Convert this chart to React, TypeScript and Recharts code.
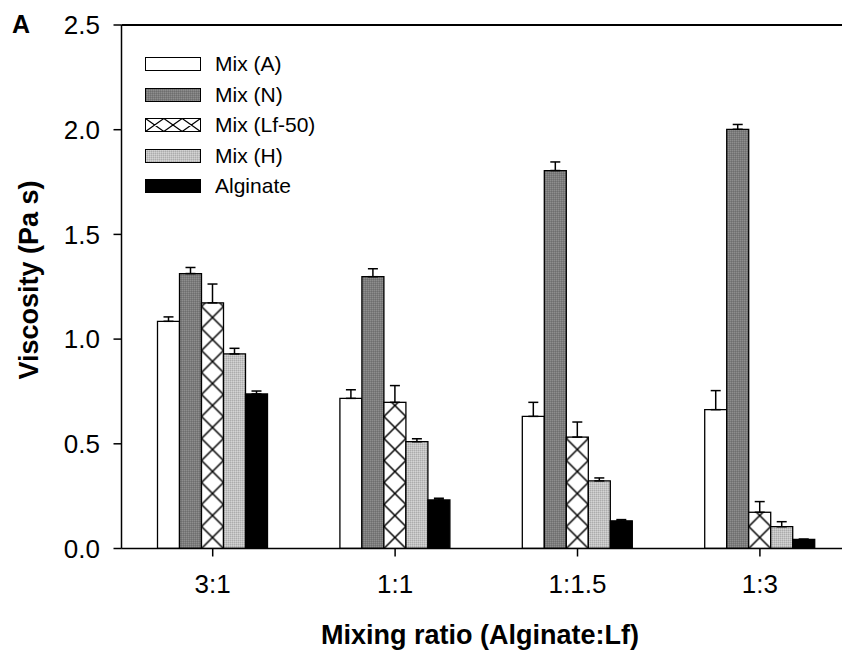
import { BarChart, Bar, XAxis, YAxis, ErrorBar, ReferenceLine, Legend } from 'recharts'

const categories = ['3:1', '1:1', '1:1.5', '1:3']

const mixA = [1.085, 0.717, 0.631, 0.663]
const errA = [0.021, 0.041, 0.067, 0.091]
const mixN = [1.313, 1.298, 1.805, 2.002]
const errN = [0.029, 0.038, 0.041, 0.023]
const mixLf = [1.173, 0.698, 0.532, 0.173]
const errLf = [0.09, 0.08, 0.072, 0.051]
const mixH = [0.929, 0.51, 0.323, 0.104]
const errH = [0.027, 0.014, 0.014, 0.024]
const alginate = [0.738, 0.232, 0.132, 0.044]
const errAlg = [0.014, 0.008, 0.006, 0]

const yTicks = [0, 0.5, 1.0, 1.5, 2.0, 2.5]

const FONT = '"Liberation Sans", Arial, sans-serif'

const series = [
  { key: 'a', name: 'Mix (A)', fill: '#ffffff' },
  { key: 'n', name: 'Mix (N)', fill: 'url(#patN)' },
  { key: 'lf', name: 'Mix (Lf-50)', fill: 'cross' },
  { key: 'h', name: 'Mix (H)', fill: 'url(#patH)' },
  { key: 'alg', name: 'Alginate', fill: '#000000' },
]

const data = categories.map((c, i) => ({
  x: i + 1,
  label: c,
  a: mixA[i], aErr: [0, errA[i]],
  n: mixN[i], nErr: [0, errN[i]],
  lf: mixLf[i], lfErr: [0, errLf[i]],
  h: mixH[i], hErr: [0, errH[i]],
  alg: alginate[i], algErr: [0, errAlg[i]],
}))

// hatched bar: one X per cell, cell as tall as the bar is wide
const CrossBar = (props: any) => {
  const { x, y, width, height, index } = props
  if (!height || height <= 0) return null
  const id = `cross-${index}`
  const w = width
  return (
    <g>
      <defs>
        <pattern id={id} patternUnits="userSpaceOnUse" x={x} y={y + height} width={w} height={w}>
          <rect width={w} height={w} fill="#fff" />
          <path d={`M0 0 L${w} ${w} M${w} 0 L0 ${w}`} stroke="#000" strokeWidth={1.5} />
        </pattern>
      </defs>
      <rect x={x} y={y} width={width} height={height} fill={`url(#${id})`} stroke="#000" strokeWidth={1.3} />
    </g>
  )
}

const Swatch = ({ fill }: { fill: string }) => {
  if (fill === 'cross') {
    const cw = 55 / 3
    let d = ''
    for (let k = 0; k < 3; k++) {
      const x0 = k * cw
      d += `M${x0} 0 L${x0 + cw} 13 M${x0 + cw} 0 L${x0} 13 `
    }
    return (
      <svg width={56} height={14} style={{ display: 'block' }}>
        <rect x={0.5} y={0.5} width={55} height={13} fill="#fff" stroke="#000" />
        <path d={d} transform="translate(0.5,0.5)" stroke="#000" strokeWidth={1.2} />
      </svg>
    )
  }
  return (
    <svg width={56} height={14} style={{ display: 'block' }}>
      <rect x={0.5} y={0.5} width={55} height={13} fill={fill} stroke="#000" />
    </svg>
  )
}

const renderLegend = () => (
  <div style={{ fontFamily: FONT, fontSize: 21, color: '#000' }}>
    {series.map(s => (
      <div key={s.key} style={{ display: 'flex', alignItems: 'center', height: 30.5 }}>
        <Swatch fill={s.fill} />
        <span style={{ marginLeft: 14, lineHeight: '22px' }}>{s.name}</span>
      </div>
    ))}
  </div>
)

export default function App() {
  return (
    <div style={{ position: 'absolute', left: 0, top: 0, width: 842, height: 662, background: '#fff' }}>
      <BarChart
        width={842}
        height={662}
        data={data}
        margin={{ top: 25, right: 0, bottom: 53.5, left: 0 }}
        barGap={0}
        barSize={22}
      >
        <defs>
          <pattern id="patN" patternUnits="userSpaceOnUse" width={2} height={2}>
            <rect width={2} height={2} fill="#7c7c7c" />
            <rect width={1} height={1} fill="#8e8e8e" />
            <rect x={1} y={1} width={1} height={1} fill="#6e6e6e" />
          </pattern>
          <pattern id="patH" patternUnits="userSpaceOnUse" width={2} height={2}>
            <rect width={2} height={2} fill="#c2c2c2" />
            <rect width={1} height={1} fill="#acacac" />
            <rect x={1} y={1} width={1} height={1} fill="#d4d4d4" />
          </pattern>
        </defs>
        <XAxis
          dataKey="x"
          type="number"
          domain={[0.5, 4.45]}
          ticks={[1, 2, 3, 4]}
          tickFormatter={(v: number) => categories[v - 1]}
          height={60}
          tickSize={8}
          tickMargin={18}
          axisLine={{ stroke: '#000', strokeWidth: 1.5 }}
          tickLine={{ stroke: '#000', strokeWidth: 1.5 }}
          tick={{ fill: '#000', fontSize: 26, fontFamily: FONT }}
          allowDataOverflow
        />
        <YAxis
          domain={[0, 2.5]}
          ticks={yTicks}
          width={121.5}
          tickSize={8}
          tickMargin={13.5}
          tickFormatter={(v: number) => v.toFixed(1)}
          axisLine={{ stroke: '#000', strokeWidth: 1.5 }}
          tickLine={{ stroke: '#000', strokeWidth: 1.5 }}
          tick={{ fill: '#000', fontSize: 26, fontFamily: FONT }}
          allowDataOverflow
        />
        <ReferenceLine y={2.5} stroke="#000" strokeWidth={2} />
        <Bar dataKey="a" name="Mix (A)" fill="#ffffff" stroke="#000" strokeWidth={1.3} isAnimationActive={false}>
          <ErrorBar dataKey="aErr" width={5} stroke="#000" strokeWidth={1.5} isAnimationActive={false} />
        </Bar>
        <Bar dataKey="n" name="Mix (N)" fill="url(#patN)" stroke="#000" strokeWidth={1.3} isAnimationActive={false}>
          <ErrorBar dataKey="nErr" width={5} stroke="#000" strokeWidth={1.5} isAnimationActive={false} />
        </Bar>
        <Bar dataKey="lf" name="Mix (Lf-50)" shape={CrossBar} isAnimationActive={false}>
          <ErrorBar dataKey="lfErr" width={5} stroke="#000" strokeWidth={1.5} isAnimationActive={false} />
        </Bar>
        <Bar dataKey="h" name="Mix (H)" fill="url(#patH)" stroke="#000" strokeWidth={1.3} isAnimationActive={false}>
          <ErrorBar dataKey="hErr" width={5} stroke="#000" strokeWidth={1.5} isAnimationActive={false} />
        </Bar>
        <Bar dataKey="alg" name="Alginate" fill="#000" stroke="#000" strokeWidth={1.3} isAnimationActive={false}>
          <ErrorBar dataKey="algErr" width={5} stroke="#000" strokeWidth={1.5} isAnimationActive={false} />
        </Bar>
        <Legend
          layout="vertical"
          align="center"
          verticalAlign="middle"
          content={renderLegend}
          wrapperStyle={{ position: 'absolute', left: 145, top: 49, width: 220, height: 160 }}
        />
        <text x={12} y={33} fontFamily={FONT} fontWeight="bold" fontSize={25} fill="#000">A</text>
        <text
          x={38}
          y={280}
          transform="rotate(-90 38 280)"
          textAnchor="middle"
          fontFamily={FONT}
          fontWeight="bold"
          fontSize={27}
          fill="#000"
        >
          Viscosity (Pa s)
        </text>
        <text x={480} y={644} textAnchor="middle" fontFamily={FONT} fontWeight="bold" fontSize={27} fill="#000">
          Mixing ratio (Alginate:Lf)
        </text>
      </BarChart>
    </div>
  )
}
